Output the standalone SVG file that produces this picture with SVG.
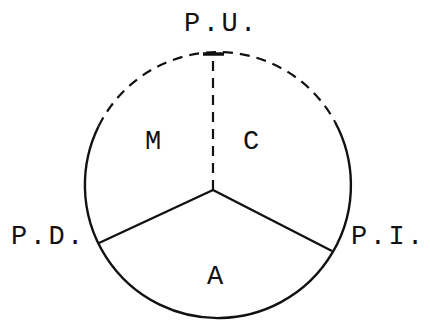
<svg xmlns="http://www.w3.org/2000/svg" width="430" height="321" viewBox="0 0 430 321">
<style>
.lbl{font-family:"Liberation Mono","Courier New",monospace;font-size:27px;fill:#111;letter-spacing:2.5px}
.sec{font-family:"Liberation Mono","Courier New",monospace;font-size:27px;fill:#111;text-anchor:middle}
.solid{fill:none;stroke:#111;stroke-width:2.4}
.dash{fill:none;stroke:#111;stroke-width:2.2;stroke-dasharray:10 7}
</style>
<rect width="430" height="321" fill="#fff"/>
<g id="connectors">
<path id="arc-solid" class="solid" d="M335,122 A133 133 0 1 1 98.6,126.3"/>
<path id="arc-dashed" class="dash" d="M98.6,126.3 A133 133 0 0 1 335,122"/>
<line id="spoke-up" class="dash" x1="213" y1="190" x2="213" y2="55" stroke-dasharray="8 8"/>
<line id="top-mark" x1="203" y1="54" x2="224" y2="54" stroke="#111" stroke-width="3.5"/>
<line id="spoke-left" class="solid" x1="213" y1="190" x2="99" y2="243"/>
<line id="spoke-right" class="solid" x1="213" y1="190" x2="332" y2="251"/>
</g>
<g id="node-PU"><text class="lbl" x="184" y="31">P.U.</text></g>
<g id="node-PD"><text class="lbl" x="11" y="244">P.D.</text></g>
<g id="node-PI"><text class="lbl" x="351" y="244">P.I.</text></g>
<g id="node-M"><text class="sec" x="153" y="149">M</text></g>
<g id="node-C"><text class="sec" x="251" y="149">C</text></g>
<g id="node-A"><text class="sec" x="215" y="284">A</text></g>
</svg>
